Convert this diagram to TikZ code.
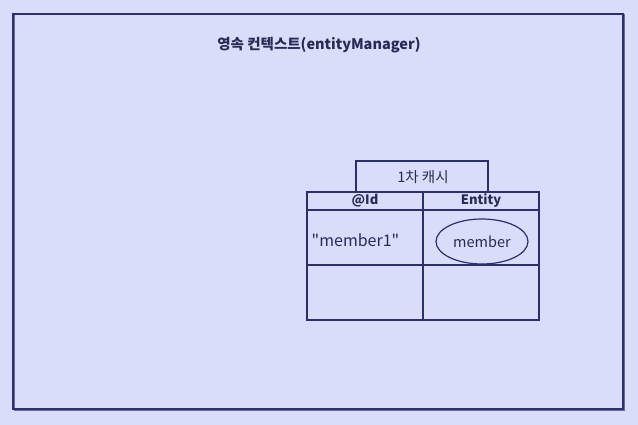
\documentclass[tikz,border=0pt]{standalone}
\usepackage{fontspec}
\setmainfont{Noto Sans CJK KR}
\usetikzlibrary{positioning, shapes.geometric}
\definecolor{pcback}{HTML}{D9DDF9}
\definecolor{pcline}{HTML}{2B2F6B}
\definecolor{pctext}{HTML}{272B55}

\begin{document}
\begin{tikzpicture}[x=1pt, y=-1pt, line join=miter,
    cell/.style={draw=pcline, line width=1.4pt},
    label/.style={text=pctext, inner sep=0pt, font=\fontsize{14.5}{16}\selectfont}]
    \fill[pcback] (0,0) rectangle (638,425);
    \useasboundingbox (0,0) rectangle (638,425);
    % Persistence context frame
    \draw[pcline!70, line width=1pt] (14.5,15) rectangle (624,410);
    \draw[pcline, line width=1.8pt] (13,14) rectangle (623,409);
    \node[label, font=\fontsize{14.5}{16}\selectfont\bfseries] (title) at (319,45) {영속 컨텍스트(entityManager)};

    % First-level cache
    \draw[cell] (356,192) -- (356,161) -- (488,161) -- (488,192);
    \node[label] (cache) at (423,177) {1차 캐시};
    \draw[cell] (307,192) rectangle (539,320);
    \draw[cell] (307,210) -- (539,210);
    \draw[cell] (307,265) -- (539,265);
    \draw[cell] (423,192) -- (423,320);
    \node[label, font=\fontsize{13}{15}\selectfont\bfseries] (idhead) at (365,201) {@Id};
    \node[label, font=\fontsize{13}{15}\selectfont\bfseries] (entityhead) at (481,201) {Entity};
    \node[label, font=\fontsize{16}{18}\selectfont] (key) at (355.5,240) {\textquotedbl member1\textquotedbl};
    \node[ellipse, draw=pcline, line width=1.2pt, minimum width=92pt, minimum height=45pt,
        text=pctext, inner sep=0pt, font=\fontsize{14.5}{16}\selectfont] (member) at (482,241.5) {member};
\end{tikzpicture}
\end{document}
